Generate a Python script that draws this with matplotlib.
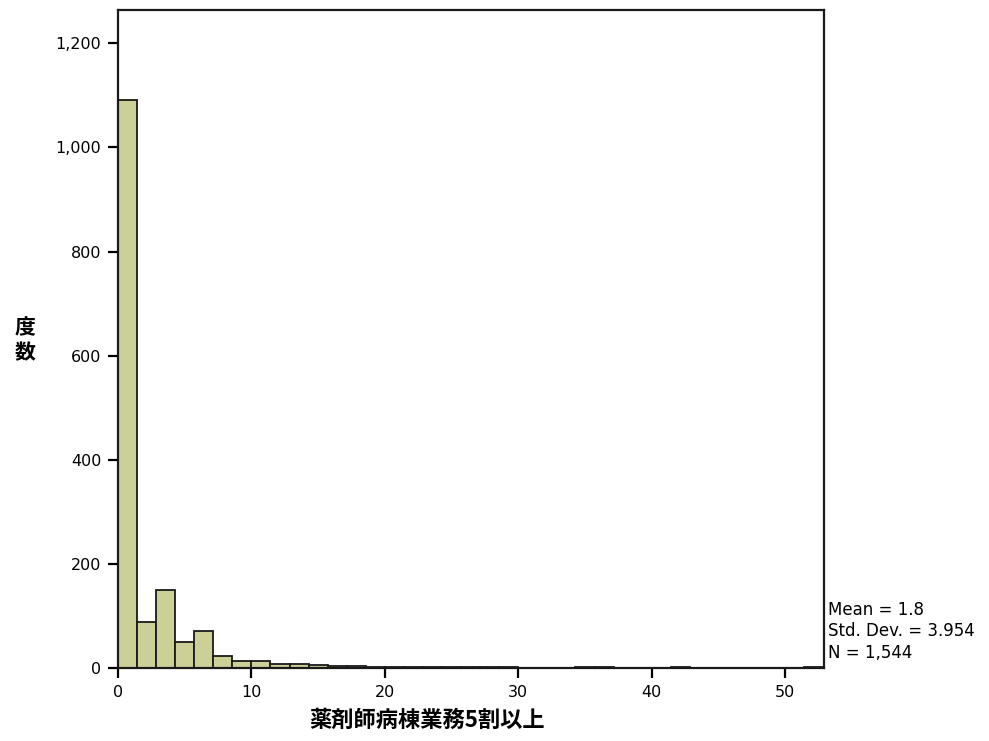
import numpy as np
import matplotlib
matplotlib.use('Agg')
import matplotlib.pyplot as plt

plt.rcParams['font.family'] = ['DejaVu Sans', 'Noto Sans CJK JP']

# histogram counts, 37 bins of width 10/7 from 0
counts = [1092, 89, 150, 50, 71, 23, 14, 13, 7, 7,
          5, 4, 3, 2, 2, 1, 1, 1, 1, 1,
          1, 0, 0, 0, 1, 2, 0, 0, 0, 2,
          0, 0, 0, 0, 0, 0, 1]
bin_width = 10 / 7
edges = np.arange(len(counts) + 1) * bin_width

x_ticks = [0, 10, 20, 30, 40, 50]
y_ticks = [0, 200, 400, 600, 800, 1000, 1200]
x_label = '薬剤師病棟業務5割以上'
y_label = '度\n数'
stats_lines = ['Mean = 1.8', 'Std. Dev. = 3.954', 'N = 1,544']

fig = plt.figure(figsize=(9.89, 7.41), dpi=100)
ax = fig.add_axes([0.1193, 0.0985, 0.833 - 0.1193, 0.9865 - 0.0985])

ax.bar(edges[:-1], counts, width=bin_width, align='edge',
       color='#cdd096', edgecolor='#1a1a1a', linewidth=1.3)

ax.set_xlim(0, 52.9)
ax.set_ylim(0, 1264)
ax.set_xticks(x_ticks)
ax.set_yticks(y_ticks)
ax.set_yticklabels([f'{v:,}' for v in y_ticks])
ax.tick_params(direction='out', length=7, width=1.6, labelsize=11.5, pad=5)
for s in ax.spines.values():
    s.set_linewidth(1.6)
    s.set_color('#1a1a1a')

fig.text(25 / 989, 1 - 340 / 741, y_label, fontsize=15, fontweight='bold',
         ha='center', va='center', linespacing=1.25,
         family=['Noto Sans CJK JP'])
fig.text(427 / 989, 1 - 720 / 741, x_label, fontsize=16, fontweight='bold',
         ha='center', va='center', family=['Noto Sans CJK JP', 'DejaVu Sans'])
# stats box, one line per text so the spacing matches
for i, line in enumerate(stats_lines):
    fig.text(828 / 989, 1 - (610 + 21.5 * i) / 741, line, fontsize=12,
             ha='left', va='center')

fig.savefig('out.png', dpi=100, facecolor='white')
